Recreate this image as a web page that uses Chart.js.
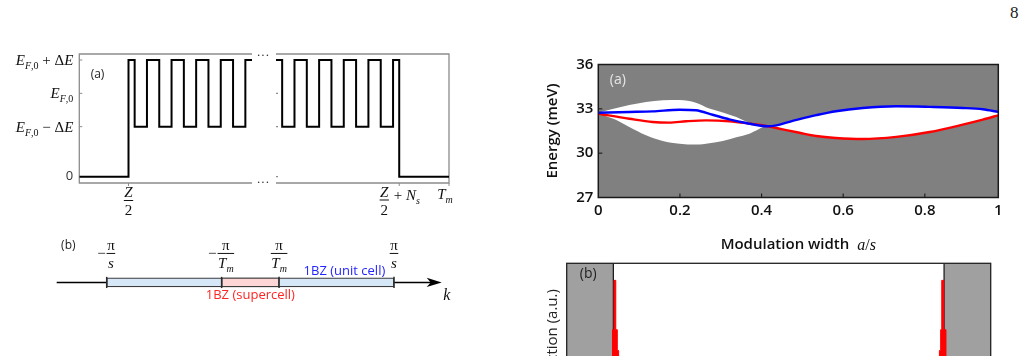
<!DOCTYPE html>
<html><head><meta charset="utf-8"><title>Figure page 8</title>
<script src="https://cdn.jsdelivr.net/npm/chart.js@4.4.1/dist/chart.umd.min.js"></script>
<style>
html,body{margin:0;padding:0;background:#fff;}
body{width:1027px;height:356px;overflow:hidden;position:relative;}
canvas{position:absolute;display:block;}
#pageNo{position:absolute;left:1010px;top:3px;font:17px "Liberation Serif",serif;color:#222;}
</style></head>
<body>
<div id="pageNo">8</div>
<canvas id="cWaveA" width="275" height="190" style="left:0;top:40px"></canvas>
<canvas id="cWaveB" width="200" height="190" style="left:262px;top:40px"></canvas>
<canvas id="cBZ" width="420" height="80" style="left:40px;top:232px"></canvas>
<canvas id="cEnergy" width="470" height="210" style="left:540px;top:50px"></canvas>
<canvas id="cDist" width="487" height="220" style="left:540px;top:250px"></canvas>
<script>
// ---------------- DATA ----------------
// Left (a): Fermi-energy profile; x in units of the cell length s, energy in units of ΔE
const waveAx = [0, 2, 2.25, 2.75, 3.25, 3.75, 4.25, 4.75, 5.25, 5.75, 6.25, 6.75, 7.02];
const waveAy = [0, 3.5, 1.5, 3.5, 1.5, 3.5, 1.5, 3.5, 1.5, 3.5, 1.5, 3.5, 3.5];
const waveBx = [20, 20.25, 20.75, 21.25, 21.75, 22.25, 22.75, 23.25, 23.75, 24.25, 24.75, 25, 27.02];
const waveBy = [3.5, 1.5, 3.5, 1.5, 3.5, 1.5, 3.5, 1.5, 3.5, 1.5, 3.5, 0, 0];
const waveYRange = [-0.19, 3.68];
const waveYTicks = [0, 1.5, 2.5, 3.5];
const waveYLabels = ['0', 'E_{F,0} − ΔE', 'E_{F,0}', 'E_{F,0} + ΔE'];
const waveXTicksA = [2];
const waveXLabelsA = ['\\frac{Z}{2}'];
const waveXTicksB = [25, 27.02];
const waveXLabelsB = ['\\frac{Z}{2} + N_s', 'T_m'];

// Left (b): Brillouin zones, k in units of π/s
const bzAxisRange = [-1.348, 1.332];
const bzRows = [''];
const bzUnit = [-1, 1];
const bzSuper = [-0.2, 0.2];
const bzTicks = [-1, -0.2, 0.2, 1];
const bzTickLabels = ['−\\frac{π}{s}', '−\\frac{π}{T_m}', '\\frac{π}{T_m}', '\\frac{π}{s}'];

// Right (a): energies (meV) versus modulation width a/s
const energyXTicks = [0, 0.2, 0.4, 0.6, 0.8, 0.98];
const energyXLabels = ['0', '0.2', '0.4', '0.6', '0.8', '1'];
const energyYTicks = [27, 30, 33, 36];
const energyYLabels = ['27', '30', '33', '36'];
const bandX = [0, 0.04, 0.076, 0.117, 0.158, 0.199, 0.239, 0.272, 0.305, 0.338, 0.37, 0.415, 0.452, 0.493, 0.534, 0.582, 0.648, 0.73, 0.812, 0.893, 0.942, 0.98];
const bandTop = [32.74, 33.03, 33.26, 33.47, 33.58, 33.6, 33.42, 33.02, 32.76, 32.45, 32.06, 31.82, 32.0, 32.3, 32.57, 32.84, 33.06, 33.17, 33.13, 33.06, 32.97, 32.79];
const bandBottom = [32.67, 32.29, 31.77, 31.21, 30.82, 30.64, 30.58, 30.67, 30.82, 31.07, 31.32, 31.82, 31.61, 31.38, 31.16, 31.03, 30.96, 31.1, 31.43, 31.93, 32.27, 32.56];
const blueX = [0, 0.076, 0.133, 0.199, 0.239, 0.28, 0.321, 0.362, 0.415, 0.436, 0.468, 0.493, 0.534, 0.582, 0.648, 0.73, 0.812, 0.893, 0.942, 0.98];
const blueE = [32.74, 32.79, 32.83, 32.94, 32.9, 32.6, 32.29, 32.04, 31.82, 31.88, 32.12, 32.3, 32.57, 32.84, 33.06, 33.17, 33.13, 33.06, 32.97, 32.79];
const redX = [0, 0.076, 0.133, 0.174, 0.215, 0.264, 0.321, 0.37, 0.415, 0.452, 0.493, 0.534, 0.582, 0.648, 0.73, 0.812, 0.893, 0.942, 0.98];
const redE = [32.67, 32.33, 32.11, 32.07, 32.16, 32.22, 32.16, 32.0, 31.82, 31.61, 31.38, 31.16, 31.03, 30.96, 31.1, 31.43, 31.93, 32.27, 32.56];

// Right (b): distribution along the structure (position in % of T_m)
const distRange = [0, 100];
const leadEdges = [11.0, 89.0];
const spikeLX = [10.3, 10.8, 11.16, 11.57, 11.93, 12.25, 12.8];
const spikeLY = [0.3, 0.65, 0.91, 0.65, 0.54, 0.35, 0];
const spikeRX = [87.3, 87.9, 88.2, 88.46, 88.94, 89.45, 89.9];
const spikeRY = [0.35, 0.54, 0.65, 0.91, 0.65, 0.3, 0];

// ---------------- HELPERS ----------------
const SERIF = '"Liberation Serif", "DejaVu Serif", serif';
const SANS = '"Open Sans", "Noto Sans", sans-serif';
const FRAME_GRAY = '#8c8c8c';
Chart.defaults.font.family = SANS;
Chart.defaults.color = '#111';
const pts = (xs, ys) => xs.map((x, i) => ({x, y: ys[i]}));

function mathTokens(str){
  const out = []; let i = 0;
  while (i < str.length){
    if (str.startsWith('\\frac{', i)){
      const a = str.indexOf('}', i); const num = str.slice(i + 6, a);
      const b = str.indexOf('}', a + 2); const den = str.slice(a + 2, b);
      out.push({type:'frac', num, den}); i = b + 1;
    } else if (str[i] === '_'){
      if (str[i+1] === '{'){ const j = str.indexOf('}', i); for (const ch of str.slice(i+2, j)) out.push({type:'t', t:ch, sub:true}); i = j + 1; }
      else { out.push({type:'t', t:str[i+1], sub:true}); i += 2; }
    } else { out.push({type:'t', t:str[i], sub:false}); i++; }
  }
  return out;
}
function mathFont(ch, sub, size){
  const it = /[A-Za-z]/.test(ch);
  return (it ? 'italic ' : '') + (sub ? Math.round(size * 0.68) : size) + 'px ' + SERIF;
}
function tokWidth(ctx, tk, size){
  if (tk.type === 'frac') return Math.max(mathWidth(ctx, tk.num, size), mathWidth(ctx, tk.den, size)) + 3;
  ctx.font = mathFont(tk.t, tk.sub, size); return ctx.measureText(tk.t).width;
}
function mathWidth(ctx, str, size){ return mathTokens(str).reduce((w, tk) => w + tokWidth(ctx, tk, size), 0); }
function drawMath(ctx, str, x, yc, size, align, color, barOff){
  barOff = barOff || 0;
  const w = mathWidth(ctx, str, size);
  let cx = align === 'right' ? x - w : align === 'center' ? x - w / 2 : x;
  const base = yc + size * 0.33;
  for (const tk of mathTokens(str)){
    const tw = tokWidth(ctx, tk, size);
    ctx.save(); ctx.fillStyle = color; ctx.strokeStyle = color; ctx.textAlign = 'left'; ctx.textBaseline = 'alphabetic';
    if (tk.type === 'frac'){
      const mid = cx + tw / 2, bar = yc + barOff;
      drawMath(ctx, tk.num, mid, bar - size * 0.56, size, 'center', color);
      drawMath(ctx, tk.den, mid, bar + size * 0.64, size, 'center', color);
      ctx.lineWidth = 1; ctx.beginPath(); ctx.moveTo(cx + 1, bar); ctx.lineTo(cx + tw - 1, bar); ctx.stroke();
    } else {
      ctx.font = mathFont(tk.t, tk.sub, size);
      ctx.fillText(tk.t, cx, base + (tk.sub ? size * 0.27 : 0));
    }
    ctx.restore();
    cx += tw;
  }
}
const noInteract = {responsive:false, animation:false, events:[], devicePixelRatio:1};
const noPlug = {legend:{display:false}, tooltip:{enabled:false}};

// ---------------- LEFT (a) : two halves of a broken axis ----------------
// 'before' stepping: each value holds until the next x, then the jump
const waveLine = (xs, ys) => ({data: pts(xs, ys), stepped:'before', borderColor:'#000', borderWidth:2, pointRadius:0, fill:false});

new Chart(document.getElementById('cWaveA'), {
  type:'line',
  data:{datasets:[waveLine(waveAx, waveAy)]},
  options:{...noInteract, plugins:noPlug,
    layout:{padding:{left:79.3, right:23, top:14, bottom:47}},
    scales:{x:{type:'linear', display:false, min:waveAx[0], max:waveAx[waveAx.length-1]},
            y:{type:'linear', display:false, min:waveYRange[0], max:waveYRange[1]}}},
  plugins:[{
    id:'waveA',
    beforeDatasetsDraw(ch){
      const {ctx, chartArea:a, scales:{x, y}} = ch;
      ctx.save(); ctx.strokeStyle = FRAME_GRAY; ctx.lineWidth = 1.3;
      ctx.beginPath(); ctx.moveTo(a.right, a.top); ctx.lineTo(a.left, a.top); ctx.lineTo(a.left, a.bottom); ctx.lineTo(a.right, a.bottom); ctx.stroke();
      ctx.lineWidth = 1;
      waveYTicks.forEach(v => { const py = y.getPixelForValue(v); ctx.beginPath(); ctx.moveTo(a.left, py); ctx.lineTo(a.left + 3, py); ctx.stroke(); });
      waveXTicksA.forEach(v => { const px = x.getPixelForValue(v); ctx.beginPath(); ctx.moveTo(px, a.bottom); ctx.lineTo(px, a.bottom + 3); ctx.stroke(); });
      ctx.restore();
    },
    afterDatasetsDraw(ch){
      const {ctx, chartArea:a, scales:{x, y}} = ch;
      ctx.save();
      waveYTicks.forEach((v, i) => {
        const py = y.getPixelForValue(v), lab = waveYLabels[i];
        if (/^[0-9.]+$/.test(lab)){ ctx.font = '13px ' + SANS; ctx.fillStyle = '#333'; ctx.textAlign = 'right'; ctx.textBaseline = 'middle'; ctx.fillText(lab, a.left - 6, py); }
        else drawMath(ctx, lab, a.left - 6, py, 15, 'right', '#111');
      });
      waveXTicksA.forEach((v, i) => drawMath(ctx, waveXLabelsA[i], x.getPixelForValue(v), a.bottom + 17.5, 15, 'center', '#111', 0));
      ctx.font = '12px ' + SANS; ctx.fillStyle = '#222'; ctx.textAlign = 'center'; ctx.textBaseline = 'middle';
      ctx.fillText('(a)', a.left + 18.2, a.top + 21);
      ctx.font = '13px ' + SERIF; ctx.fillStyle = '#333';
      ctx.fillText('···', a.right + 11, a.top + 1.5); ctx.fillText('···', a.right + 11, a.bottom);
      ctx.restore();
    }
  }]
});

new Chart(document.getElementById('cWaveB'), {
  type:'line',
  data:{datasets:[waveLine(waveBx, waveBy)]},
  options:{...noInteract, plugins:noPlug,
    layout:{padding:{left:14, right:13, top:14, bottom:47}},
    scales:{x:{type:'linear', display:false, min:waveBx[0], max:waveBx[waveBx.length-1]},
            y:{type:'linear', display:false, min:waveYRange[0], max:waveYRange[1]}}},
  plugins:[{
    id:'waveB',
    beforeDatasetsDraw(ch){
      const {ctx, chartArea:a, scales:{x, y}} = ch;
      ctx.save(); ctx.strokeStyle = FRAME_GRAY; ctx.lineWidth = 1.3;
      ctx.beginPath(); ctx.moveTo(a.left, a.top); ctx.lineTo(a.right, a.top); ctx.lineTo(a.right, a.bottom); ctx.lineTo(a.left, a.bottom); ctx.stroke();
      ctx.lineWidth = 1.2;
      waveYTicks.forEach(v => { const py = y.getPixelForValue(v); ctx.beginPath(); ctx.moveTo(a.left, py); ctx.lineTo(a.left + 2, py); ctx.stroke(); });
      ctx.lineWidth = 1;
      waveXTicksB.forEach(v => { const px = x.getPixelForValue(v); ctx.beginPath(); ctx.moveTo(px, a.bottom); ctx.lineTo(px, a.bottom + 3); ctx.stroke(); });
      ctx.restore();
    },
    afterDatasetsDraw(ch){
      const {ctx, chartArea:a, scales:{x}} = ch;
      drawMath(ctx, waveXLabelsB[0], x.getPixelForValue(waveXTicksB[0]), a.bottom + 12, 15, 'center', '#111', 5);
      drawMath(ctx, waveXLabelsB[1], x.getPixelForValue(waveXTicksB[1]) - 4, a.bottom + 11, 15, 'center', '#111');
    }
  }]
});

// ---------------- LEFT (b) : Brillouin zones ----------------
new Chart(document.getElementById('cBZ'), {
  type:'bar',
  data:{labels:bzRows, datasets:[
    {label:'1BZ (supercell)', data:[bzSuper], backgroundColor:'#ffd6d6', borderColor:'#3c3c3c', borderWidth:1.2, borderSkipped:false, grouped:false, barThickness:9, order:0},
    {label:'1BZ (unit cell)', data:[bzUnit], backgroundColor:'#d6e8f8', borderColor:'#3c3c3c', borderWidth:1.2, borderSkipped:false, grouped:false, barThickness:9, order:1}
  ]},
  options:{...noInteract, indexAxis:'y', plugins:noPlug,
    layout:{padding:{left:16.7, right:18.3, top:40.3, bottom:19.4}},
    scales:{x:{type:'linear', display:false, min:bzAxisRange[0], max:bzAxisRange[1]},
            y:{type:'category', display:false}}},
  plugins:[{
    id:'bz',
    beforeDatasetsDraw(ch){
      const {ctx, chartArea:a} = ch; const yc = (a.top + a.bottom) / 2;
      ctx.save(); ctx.strokeStyle = '#000'; ctx.fillStyle = '#000'; ctx.lineWidth = 1.6;
      ctx.beginPath(); ctx.moveTo(a.left, yc); ctx.lineTo(a.right - 10, yc); ctx.stroke();
      ctx.beginPath(); ctx.moveTo(a.right, yc); ctx.lineTo(a.right - 15, yc - 4.6); ctx.lineTo(a.right - 11, yc); ctx.lineTo(a.right - 15, yc + 4.6); ctx.closePath(); ctx.fill();
      ctx.restore();
    },
    afterDatasetsDraw(ch){
      const {ctx, chartArea:a, scales:{x}} = ch; const yc = (a.top + a.bottom) / 2;
      ctx.save(); ctx.strokeStyle = '#2a2a2a'; ctx.lineWidth = 1.5;
      bzTicks.forEach(v => { const px = x.getPixelForValue(v); ctx.beginPath(); ctx.moveTo(px, yc - 5.6); ctx.lineTo(px, yc + 5.6); ctx.stroke(); });
      bzTicks.forEach((v, i) => drawMath(ctx, bzTickLabels[i], x.getPixelForValue(v), yc - 29, 15, 'center', '#111', 0));
      ctx.font = '13px ' + SANS; ctx.textAlign = 'center'; ctx.textBaseline = 'middle';
      ctx.fillStyle = '#2424ff'; ctx.fillText('1BZ (unit cell)', x.getPixelForValue(0.655), yc - 11.5);
      ctx.fillStyle = '#ff2424'; ctx.fillText('1BZ (supercell)', x.getPixelForValue(0), yc + 12.5);
      ctx.fillStyle = '#222'; ctx.font = '12px ' + SANS; ctx.fillText('(b)', a.left + 11.6, yc - 37);
      ctx.restore();
      drawMath(ctx, 'k', a.right + 5, yc + 12.5, 16, 'center', '#111');
    }
  }]
});

// ---------------- RIGHT (a) : energies vs modulation width ----------------
const smooth = {pointRadius:0, fill:false, cubicInterpolationMode:'monotone'};
new Chart(document.getElementById('cEnergy'), {
  type:'line',
  data:{datasets:[
    {...smooth, label:'gap upper edge', data:pts(bandX, bandTop), fill:'+1', backgroundColor:'#ffffff', borderColor:'rgba(0,0,0,0)', borderWidth:0, order:5},
    {...smooth, label:'gap lower edge', data:pts(bandX, bandBottom), borderColor:'rgba(0,0,0,0)', borderWidth:0, order:4},
    {...smooth, label:'lower state', data:pts(redX, redE), borderColor:'#ff0000', borderWidth:2.4, order:1},
    {...smooth, label:'upper state', data:pts(blueX, blueE), borderColor:'#0000ff', borderWidth:2.4, order:0}
  ]},
  options:{...noInteract,
    layout:{padding:{left:0, right:11.7, top:14.5, bottom:0}},
    plugins:{...noPlug, filler:{drawTime:'beforeDatasetsDraw'}},
    scales:{
      x:{type:'linear', min:0, max:0.98,
         afterBuildTicks:s => { s.ticks = energyXTicks.map(v => ({value:v})); },
         afterFit:s => { s.height = 62.5; },
         ticks:{callback:(v, i) => energyXLabels[i], font:{size:15, weight:'600'}, color:'#111', padding:4.5, maxRotation:0, autoSkip:false},
         grid:{display:false, drawTicks:false}, border:{display:false}},
      y:{type:'linear', min:27, max:36,
         afterBuildTicks:s => { s.ticks = energyYTicks.map(v => ({value:v})); },
         afterFit:s => { s.width = 58.3; },
         ticks:{callback:(v, i) => energyYLabels[i], font:{size:15, weight:'600'}, color:'#111', padding:5, autoSkip:false},
         grid:{display:false, drawTicks:false}, border:{display:false},
         title:{display:true, text:'Energy (meV)', font:{size:15, weight:'600'}, color:'#111', padding:{top:4, bottom:0}}}
    }},
  plugins:[{
    id:'energyDeco',
    beforeDraw(ch){
      const {ctx, chartArea:a} = ch;
      ctx.save(); ctx.fillStyle = '#808080'; ctx.fillRect(a.left, a.top, a.right - a.left, a.bottom - a.top); ctx.restore();
    },
    afterDraw(ch){
      const {ctx, chartArea:a, scales:{x, y}} = ch;
      ctx.save();
      ctx.strokeStyle = '#1a1a1a'; ctx.lineWidth = 1.5; ctx.strokeRect(a.left, a.top, a.right - a.left, a.bottom - a.top);
      ctx.lineWidth = 1.1;
      energyYTicks.slice(1, -1).forEach(v => { const py = y.getPixelForValue(v); ctx.beginPath(); ctx.moveTo(a.left, py); ctx.lineTo(a.left + 4, py); ctx.stroke(); });
      energyXTicks.slice(1, -1).forEach(v => { const px = x.getPixelForValue(v); ctx.beginPath(); ctx.moveTo(px, a.bottom); ctx.lineTo(px, a.bottom - 4); ctx.stroke(); });
      ctx.font = '14px ' + SANS; ctx.fillStyle = '#e6e6e6'; ctx.textAlign = 'center'; ctx.textBaseline = 'middle';
      ctx.fillText('(a)', a.left + 19.5, a.top + 15.5);
      // x-axis title with italic math part
      const t1 = 'Modulation width', gap = 8, mt = 'a/s';
      ctx.font = '600 15px ' + SANS; const w1 = ctx.measureText(t1).width; const w2 = mathWidth(ctx, mt, 16);
      ctx.font = '600 15px ' + SANS;
      const cx0 = (a.left + a.right) / 2 - (w1 + gap + w2) / 2, ty = a.bottom + 47;
      ctx.fillStyle = '#111'; ctx.textAlign = 'left'; ctx.textBaseline = 'middle'; ctx.fillText(t1, cx0, ty);
      ctx.restore();
      drawMath(ctx, mt, cx0 + w1 + gap, ty, 16, 'left', '#111');
    }
  }]
});

// ---------------- RIGHT (b) : distribution ----------------
const spike = (xs, ys) => ({data:pts(xs, ys), stepped:'before', fill:'origin', backgroundColor:'#ff0000', borderColor:'#ff0000', borderWidth:1, pointRadius:0});
new Chart(document.getElementById('cDist'), {
  type:'line',
  data:{datasets:[spike(spikeLX, spikeLY), spike(spikeRX, spikeRY)]},
  options:{...noInteract, plugins:noPlug,
    layout:{padding:{left:26.7, right:36.3, top:13.3, bottom:17}},
    scales:{x:{type:'linear', display:false, min:distRange[0], max:distRange[1]},
            y:{type:'linear', display:false, min:0, max:1}}},
  plugins:[{
    id:'distDeco',
    beforeDraw(ch){
      const {ctx, chartArea:a, scales:{x}} = ch;
      const l = x.getPixelForValue(leadEdges[0]), r = x.getPixelForValue(leadEdges[1]);
      ctx.save(); ctx.fillStyle = '#a0a0a0';
      ctx.fillRect(a.left, a.top, l - a.left, a.bottom - a.top); ctx.fillRect(r, a.top, a.right - r, a.bottom - a.top);
      ctx.strokeStyle = '#111'; ctx.lineWidth = 1.2;
      [l, r].forEach(p => { ctx.beginPath(); ctx.moveTo(p, a.top); ctx.lineTo(p, a.bottom); ctx.stroke(); });
      ctx.restore();
    },
    afterDraw(ch){
      const {ctx, chartArea:a} = ch;
      ctx.save(); ctx.strokeStyle = '#222'; ctx.lineWidth = 1.3;
      ctx.strokeRect(a.left, a.top, a.right - a.left, a.bottom - a.top);
      ctx.font = '14px ' + SANS; ctx.fillStyle = '#222'; ctx.textAlign = 'center'; ctx.textBaseline = 'middle';
      ctx.fillText('(b)', a.left + 21.5, a.top + 11);
      ctx.translate(a.left - 13.7, (a.top + a.bottom) / 2); ctx.rotate(-Math.PI / 2);
      ctx.font = '500 15px ' + SANS; ctx.fillText('Wave function (a.u.)', 0, 0);
      ctx.restore();
    }
  }]
});
</script>
</body></html>
